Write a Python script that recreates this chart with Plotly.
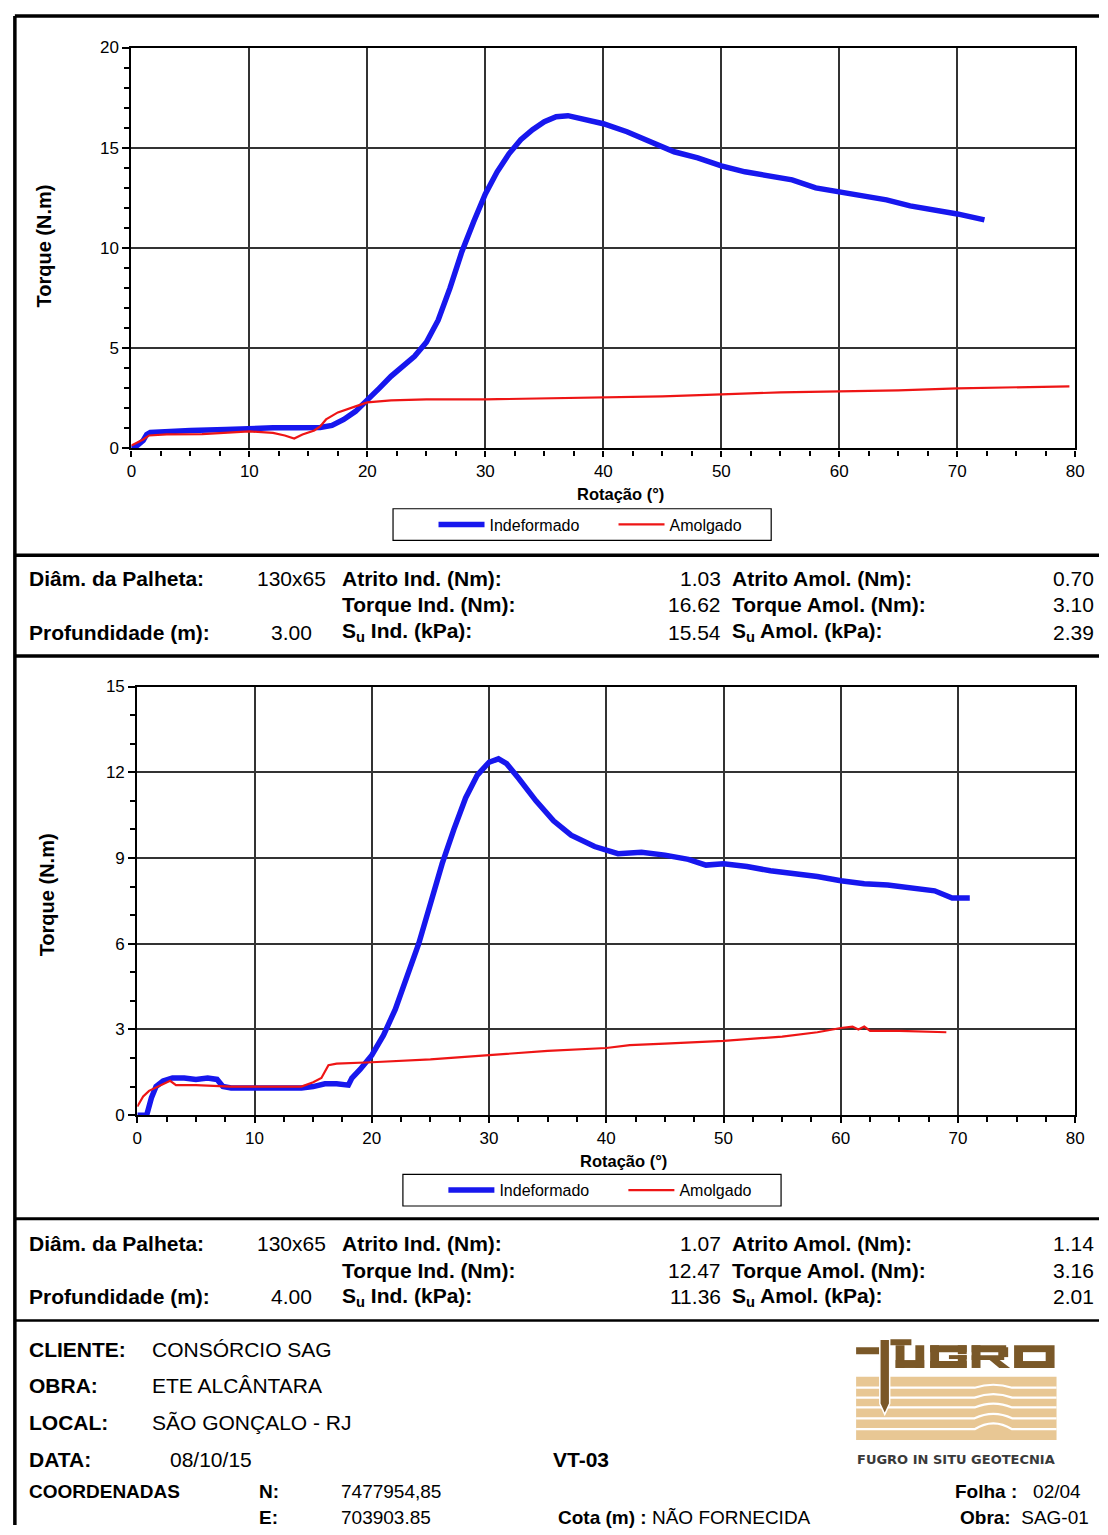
import plotly.graph_objects as go

W, H = 1108, 1535

# ---------------- data ----------------
# Test 1 (3.00 m)
top_ind_x = [0, 0.5, 1.0, 1.3, 1.6, 3, 5, 8, 10, 12, 14, 15.5, 16, 17, 18, 19, 20, 21, 22, 23, 24, 25,
             26, 27, 28, 29, 30, 31, 32, 33, 34, 35, 36, 37, 38, 40, 42, 44, 46, 48, 50, 52, 54, 56,
             58, 60, 62, 64, 66, 68, 70, 72.3]
top_ind_y = [0.0, 0.15, 0.4, 0.7, 0.8, 0.85, 0.9, 0.95, 1.0, 1.03, 1.03, 1.05, 1.05, 1.15, 1.45, 1.85,
             2.4, 3.0, 3.6, 4.1, 4.6, 5.3, 6.4, 8.0, 9.8, 11.3, 12.7, 13.8, 14.7, 15.4, 15.9, 16.3,
             16.55, 16.6, 16.45, 16.2, 15.8, 15.3, 14.8, 14.5, 14.1, 13.8, 13.6, 13.4, 13.0, 12.8,
             12.65, 12.4, 12.1, 11.9, 11.7, 11.4]
top_amo_x = [0, 0.5, 1.0, 1.5, 3, 6, 8, 10, 12, 13, 13.8, 14.5, 15.5, 16, 16.5, 17.5, 19, 20, 22, 25,
             30, 35, 40, 45, 50, 55, 60, 65, 70, 75, 79.5]
top_amo_y = [0.15, 0.3, 0.45, 0.65, 0.7, 0.72, 0.78, 0.85, 0.78, 0.65, 0.5, 0.7, 0.9, 1.1, 1.45, 1.8,
             2.1, 2.3, 2.4, 2.45, 2.45, 2.5, 2.55, 2.6, 2.7, 2.8, 2.85, 2.9, 3.0, 3.05, 3.1]

# Test 2 (4.00 m)
bot_ind_x = [0, 0.8, 1.2, 1.6, 2.2, 3, 4, 5, 6, 6.8, 7.3, 8, 10, 12, 14, 15, 16, 17, 18, 18.3, 19, 20,
             21, 22, 23, 24, 25, 26, 27, 28, 29, 30, 30.8, 31.5, 32.5, 34, 35.5, 37, 39, 41, 43, 45,
             47, 48.5, 50, 52, 54, 56, 58, 60, 62, 64, 66, 68, 69.5, 71]
bot_ind_y = [0.0, 0.0, 0.6, 1.0, 1.2, 1.3, 1.3, 1.25, 1.3, 1.25, 1.0, 0.95, 0.95, 0.95, 0.95, 1.0, 1.1,
             1.1, 1.05, 1.3, 1.6, 2.1, 2.8, 3.7, 4.8, 6.0, 7.4, 8.8, 10.0, 11.1, 11.9, 12.35, 12.47,
             12.3, 11.8, 11.0, 10.3, 9.8, 9.4, 9.15, 9.2, 9.1, 8.95, 8.75, 8.8, 8.7, 8.55, 8.45, 8.35,
             8.2, 8.1, 8.05, 7.95, 7.85, 7.6, 7.6]
bot_amo_x = [0, 0.5, 1, 2, 2.8, 3.3, 5, 8, 10, 12, 14, 15, 15.7, 16.3, 17, 20, 25, 30, 35, 40, 42, 45,
             50, 55, 58, 60, 61, 61.5, 62, 62.5, 65, 69]
bot_amo_y = [0.3, 0.65, 0.85, 1.05, 1.2, 1.05, 1.05, 1.0, 1.0, 1.0, 1.0, 1.15, 1.3, 1.75, 1.8, 1.85,
             1.95, 2.1, 2.25, 2.35, 2.45, 2.5, 2.6, 2.75, 2.9, 3.05, 3.1, 3.0, 3.1, 2.95, 2.95, 2.9]

series_names = ["Indeformado", "Amolgado"]

x_title = "Rotação (°)"
y_title = "Torque (N.m)"

table1 = {
    "diam": "130x65", "prof": "3.00",
    "atr_ind": "1.03", "tor_ind": "16.62", "su_ind": "15.54",
    "atr_amo": "0.70", "tor_amo": "3.10", "su_amo": "2.39",
}
table2 = {
    "diam": "130x65", "prof": "4.00",
    "atr_ind": "1.07", "tor_ind": "12.47", "su_ind": "11.36",
    "atr_amo": "1.14", "tor_amo": "3.16", "su_amo": "2.01",
}

# ---------------- helpers ----------------
def px(x):
    return x / W


def py(y):
    return 1 - y / H


FONT = "Liberation Sans, Arial, Helvetica, sans-serif"
BLUE = "#1717ee"
RED = "#ee1515"
GRID = "#333333"

fig = go.Figure()
fig.add_trace(go.Scatter(x=top_ind_x, y=top_ind_y, mode="lines", name=series_names[0],
                         line=dict(color=BLUE, width=5.5), xaxis="x", yaxis="y", legend="legend"))
fig.add_trace(go.Scatter(x=top_amo_x, y=top_amo_y, mode="lines", name=series_names[1],
                         line=dict(color=RED, width=2.2), xaxis="x", yaxis="y", legend="legend"))
fig.add_trace(go.Scatter(x=bot_ind_x, y=bot_ind_y, mode="lines", name=series_names[0],
                         line=dict(color=BLUE, width=5.5), xaxis="x2", yaxis="y2", legend="legend2"))
fig.add_trace(go.Scatter(x=bot_amo_x, y=bot_amo_y, mode="lines", name=series_names[1],
                         line=dict(color=RED, width=2.2), xaxis="x2", yaxis="y2", legend="legend2"))


def xaxis_cfg(domain, anchor):
    return dict(domain=domain, anchor=anchor, range=[0, 80], dtick=10, tick0=0,
                showgrid=True, gridcolor=GRID, gridwidth=1.5, zeroline=False,
                showline=True, linecolor="black", linewidth=2.2, mirror=True,
                ticks="outside", ticklen=6, tickwidth=1.5, tickcolor="black",
                minor=dict(dtick=2.5, ticks="outside", ticklen=5, tickwidth=1.5, tickcolor="black",
                           showgrid=False),
                tickfont=dict(family=FONT, size=17, color="black"), fixedrange=True)


def yaxis_cfg(domain, anchor, rmax, dtick):
    return dict(domain=domain, anchor=anchor, range=[0, rmax], dtick=dtick, tick0=0,
                showgrid=True, gridcolor=GRID, gridwidth=1.5, zeroline=False,
                showline=True, linecolor="black", linewidth=2.2, mirror=True,
                ticks="outside", ticklen=7, tickwidth=1.5, tickcolor="black",
                minor=dict(dtick=1, ticks="outside", ticklen=5, tickwidth=1.5, tickcolor="black",
                           showgrid=False),
                tickfont=dict(family=FONT, size=17, color="black"), fixedrange=True)


leg_common = dict(orientation="h", xanchor="left", yanchor="middle",
                  bgcolor="rgba(0,0,0,0)", borderwidth=0, entrywidth=119, entrywidthmode="pixels",
                  font=dict(family=FONT, size=16, color="black"), itemwidth=46)

fig.update_layout(
    width=W, height=H, margin=dict(l=0, r=0, t=0, b=0),
    paper_bgcolor="white", plot_bgcolor="white",
    font=dict(family=FONT, color="black"),
    xaxis=xaxis_cfg([px(128), px(1084)], "y"),
    yaxis=yaxis_cfg([py(445), py(39)], "x", 20, 5),
    xaxis2=xaxis_cfg([px(134), px(1084)], "y2"),
    yaxis2=yaxis_cfg([py(1120), py(686)], "x2", 15, 3),
    legend=dict(x=px(434), y=py(522), **leg_common),
    legend2=dict(x=px(444), y=py(1196), **leg_common),
    showlegend=True,
)

shapes = []


def line(x0, y0, x1, y1, w=3, color="black"):
    shapes.append(dict(type="line", xref="paper", yref="paper", x0=px(x0), y0=py(y0),
                       x1=px(x1), y1=py(y1), line=dict(color=color, width=w)))


def rect(x0, y0, x1, y1, fill=None, lw=1, lc="black"):
    shapes.append(dict(type="rect", xref="paper", yref="paper", x0=px(x0), y0=py(y0),
                       x1=px(x1), y1=py(y1), fillcolor=fill if fill else "rgba(0,0,0,0)",
                       line=dict(color=lc, width=lw), layer="below" if fill else "above"))


def block(x0, y0, x1, y1, fill):
    shapes.append(dict(type="rect", xref="paper", yref="paper", x0=px(x0), y0=py(y0),
                       x1=px(x1), y1=py(y1), fillcolor=fill, line=dict(width=0), layer="above"))


def poly(points, fill):
    d = "M" + " L".join(f"{px(a)},{py(b)}" for a, b in points) + " Z"
    shapes.append(dict(type="path", xref="paper", yref="paper", path=d, fillcolor=fill,
                       line=dict(width=0), layer="above"))


# page frame & separators
line(10, 7, 1108, 7, 3.5)
line(10, 7, 10, 1535, 3.5)
line(10, 553, 1108, 553, 3.5)
line(10, 655, 1108, 655, 3.5)
line(10, 1225, 1108, 1225, 3)
line(10, 1328, 1108, 1328, 2.5)

# legend boxes
rect(393, 506, 776, 538, lw=1.2)
rect(403, 1180, 786, 1212, lw=1.2)

# ---- logo ----
TAN = "#e8c794"
BROWN = "#7a5828"
rect(862, 1385, 1065, 1449, fill=TAN, lw=0)
for yl, amp in [(1396, 3), (1406, 3.5), (1416, 4), (1427, 4.5), (1438, 6)]:
    path = (f"M{px(862)},{py(yl)} L{px(982)},{py(yl)} "
            f"Q{px(1001)},{py(yl - 2 * amp)} {px(1020)},{py(yl)} L{px(1065)},{py(yl)}")
    shapes.append(dict(type="path", xref="paper", yref="paper", path=path,
                       line=dict(color="white", width=2.2), layer="above"))
# probe / F
block(862, 1355, 896, 1362, BROWN)
block(886, 1347, 918, 1353, BROWN)
shapes.append(dict(type="path", xref="paper", yref="paper",
                   path=(f"M{px(886)},{py(1347)} L{px(896)},{py(1347)} L{px(896)},{py(1412)} "
                         f"L{px(891)},{py(1423)} L{px(886)},{py(1412)} Z"),
                   fillcolor=BROWN, line=dict(color="white", width=1.5), layer="above"))
# block letters U G R O
T, B = 1353, 1376
# U
block(902, T, 911, B, BROWN)
block(922, T, 931, B, BROWN)
block(902, B - 8, 931, B, BROWN)
# G
block(937, T, 974, T + 7, BROWN)
block(937, T, 946, B, BROWN)
block(937, B - 7, 974, B, BROWN)
block(965, T + 10, 974, B, BROWN)
block(956, T + 10, 974, T + 14, BROWN)
block(965, T, 974, T + 9, BROWN)
# R
block(979, T, 988, B, BROWN)
block(979, T, 1014, T + 7, BROWN)
block(1006, T + 2, 1016, T + 12, BROWN)
block(979, T + 10, 1012, T + 15, BROWN)
poly([(996, T + 14), (1006, T + 14), (1018, B), (1007, B)], BROWN)
# O
block(1022, T, 1063, B, BROWN)
block(1031, T + 7, 1054, B - 7, "white")
fig.update_layout(shapes=shapes)

# ---------------- annotations ----------------
ann = []


def text(x, y, s, size=21, anchor="left", bold=False, color="black", family=FONT, angle=0):
    if bold:
        s = f"<b>{s}</b>"
    ann.append(dict(x=px(x), y=py(y), xref="paper", yref="paper", text=s, showarrow=False,
                    xanchor=anchor, yanchor="middle", textangle=angle,
                    font=dict(family=family, size=size, color=color)))


# axis titles
text(623, 491, x_title, size=16.5, anchor="center", bold=True)
text(626, 1166, x_title, size=16.5, anchor="center", bold=True)
text(40, 240, y_title, size=20, anchor="center", bold=True, angle=-90)
text(42, 897, y_title, size=20, anchor="center", bold=True, angle=-90)


def table(t, r1, r2, r3):
    text(22, r1, "Diâm. da Palheta:", bold=True)
    text(327, r1, t["diam"], anchor="right")
    text(22, r3, "Profundidade (m):", bold=True)
    text(313, r3, t["prof"], anchor="right")
    text(339, r1, "Atrito Ind. (Nm):", bold=True)
    text(339, r2, "Torque Ind. (Nm):", bold=True)
    text(339, r3, "S<sub>u</sub> Ind. (kPa):", bold=True)
    text(727, r1, t["atr_ind"], anchor="right")
    text(727, r2, t["tor_ind"], anchor="right")
    text(727, r3, t["su_ind"], anchor="right")
    text(734, r1, "Atrito Amol. (Nm):", bold=True)
    text(734, r2, "Torque Amol. (Nm):", bold=True)
    text(734, r3, "S<sub>u</sub> Amol. (kPa):", bold=True)
    text(1105, r1, t["atr_amo"], anchor="right")
    text(1105, r2, t["tor_amo"], anchor="right")
    text(1105, r3, t["su_amo"], anchor="right")


table(table1, 577, 603, 631)
table(table2, 1250, 1277, 1304)

# footer
text(22, 1357, "CLIENTE:", bold=True)
text(147, 1357, "CONSÓRCIO SAG")
text(22, 1394, "OBRA:", bold=True)
text(147, 1394, "ETE ALCÂNTARA")
text(22, 1431, "LOCAL:", bold=True)
text(147, 1431, "SÃO GONÇALO - RJ")
text(22, 1469, "DATA:", bold=True)
text(165, 1469, "08/10/15")
text(22, 1501, "COORDENADAS", bold=True, size=19)
text(255, 1501, "N:", bold=True, size=19)
text(338, 1501, "7477954,85", size=19)
text(255, 1527, "E:", bold=True, size=19)
text(338, 1527, "703903.85", size=19)
text(553, 1469, "VT-03", bold=True)
text(558, 1527, "<b>Cota (m) :</b> NÃO FORNECIDA", size=19)
text(1092, 1501, "<b>Folha :</b>   02/04", anchor="right", size=19)
text(1100, 1527, "<b>Obra:</b>  SAG-01", anchor="right", size=19)

text(963, 1469, "FUGRO IN SITU GEOTECNIA", size=13, anchor="center", bold=True, color="#3a3a3a",
     family="DejaVu Sans, Verdana, sans-serif")

fig.update_layout(annotations=ann)

fig.write_html("out.html",
               post_script=("document.body.style.margin='0';"
                            "document.body.style.overflow='hidden';"))
